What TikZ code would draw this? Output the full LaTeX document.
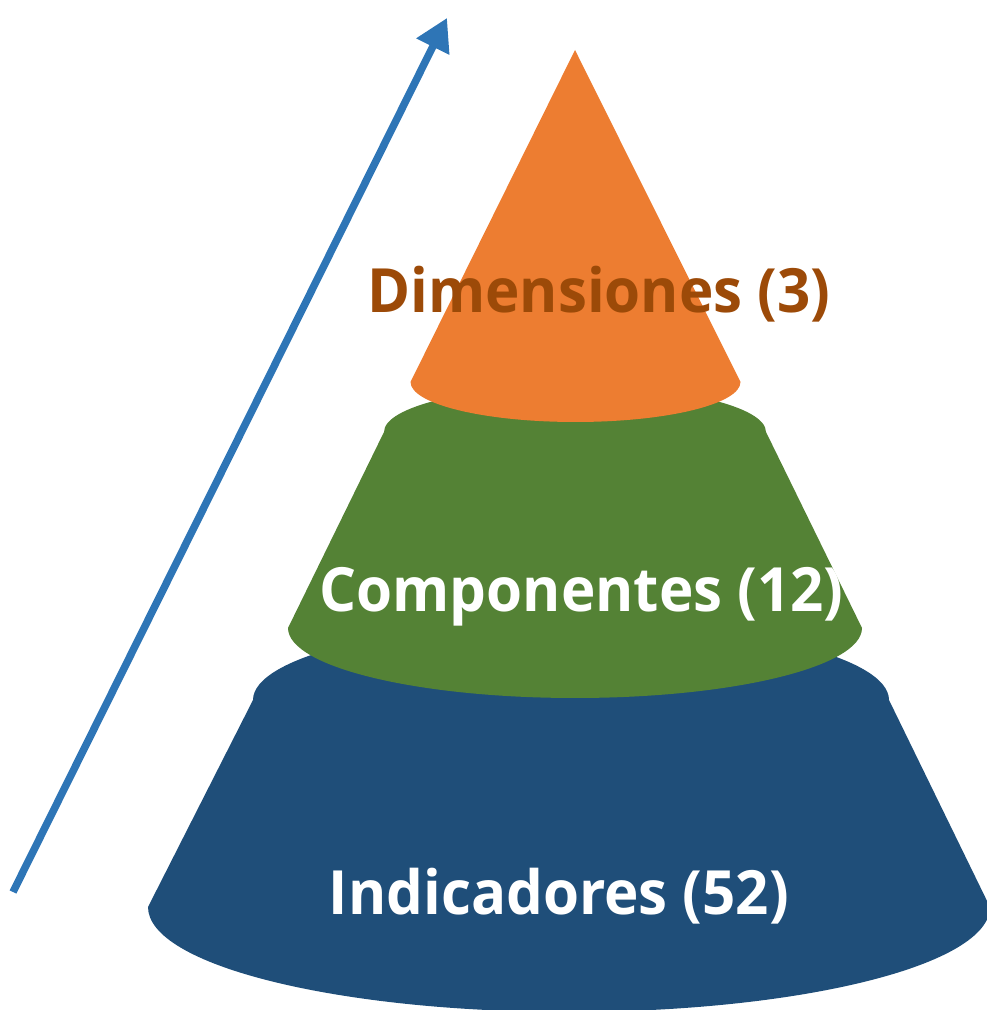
\documentclass[tikz,border=0pt]{standalone}
\usepackage{fontspec}
\setmainfont{Open Sans}
\usetikzlibrary{arrows.meta}
\definecolor{tierorange}{HTML}{ED7D31}
\definecolor{tiergreen}{HTML}{548235}
\definecolor{tierblue}{HTML}{1F4E79}
\definecolor{arrowblue}{HTML}{2E75B6}
\definecolor{labelbrown}{HTML}{9C4A08}
\tikzset{
  tierlabel/.style={anchor=base, inner sep=0pt, xscale=0.955, transform shape, font=\fontsize{61}{72}\selectfont\bfseries},
  riseline/.style={draw=arrowblue, line width=7.5pt, -{Triangle[length=32pt,width=35pt]}}
}
\begin{document}
\begin{tikzpicture}[x=1pt,y=1pt]
\useasboundingbox (0,0) rectangle (987,1010);
\clip (0,0) rectangle (987,1010);
% bottom tier
\fill[tierblue] (253,310) arc[start angle=180,end angle=0,x radius=318,y radius=78]
  -- (990,103) arc[start angle=0,end angle=-180,x radius=421,y radius=105] -- cycle;
% middle tier
\fill[tiergreen] (384,578) arc[start angle=180,end angle=0,x radius=191,y radius=46]
  -- (862,382) arc[start angle=0,end angle=-180,x radius=287,y radius=70] -- cycle;
% top tier
\fill[tierorange] (575,960) -- (410.5,628) arc[start angle=180,end angle=360,x radius=165,y radius=40] -- cycle;
% labels
\node[tierlabel, text=labelbrown] (dim) at (599,697) {Dimensiones (3)};
\node[tierlabel, text=white] (comp) at (581.5,398) {Componentes (12)};
\node[tierlabel, text=white] (ind) at (559,95) {Indicadores (52)};
% arrow
\coordinate (arrowstart) at (13,118);
\coordinate (arrowtip) at (447,992);
\draw[riseline] (arrowstart) -- (arrowtip);
\end{tikzpicture}
\end{document}
